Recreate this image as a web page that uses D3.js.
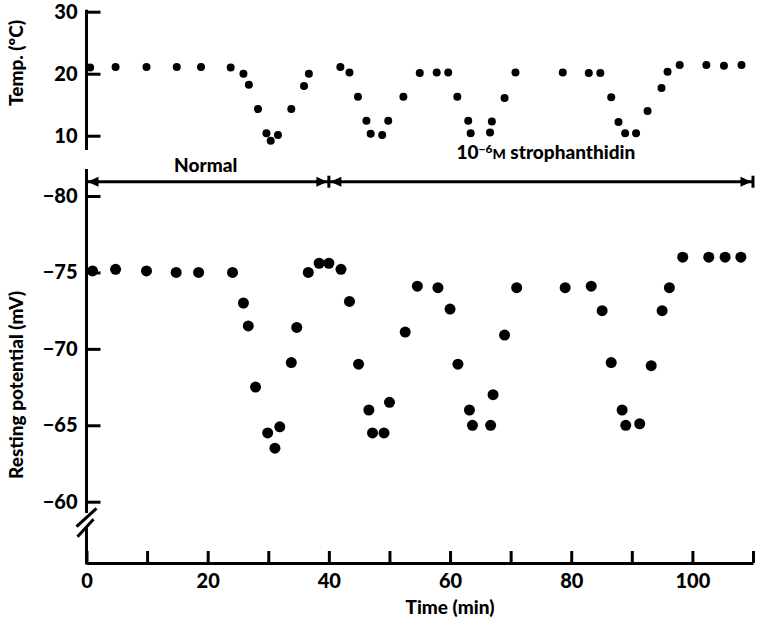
<!doctype html>
<meta charset="utf-8">

<style>
body {
  margin: 0;
  background: #fff;
}
svg {
  display: block;
}
.txt, .axis text {
  font-family: Lato, "Open Sans", sans-serif;
  font-weight: 900;
  font-size: 19px;
  fill: #000;
}
.axis text {
  font-size: 20px;
}
.axis path, .axis line, .rule {
  stroke: #000;
  stroke-width: 3;
  fill: none;
}
</style>

<svg id="chart" width="757" height="623"></svg>

<script src="https://d3js.org/d3.v7.min.js"></script>
<script>
  // temperature of the bath
  var tempTime = [0.6, 4.8, 9.9, 14.9, 18.9, 23.8, 25.9, 26.8, 28.3, 29.7, 30.4, 31.6, 33.8, 35.9, 36.7,
    41.9, 43.4, 44.8, 46.2, 46.9, 48.8, 49.8, 52.3, 55.0, 57.8, 59.7, 61.2, 63.0, 63.4, 66.6, 66.9,
    69.0, 70.8, 78.6, 82.9, 84.8, 86.6, 87.8, 88.9, 90.7, 92.6, 94.9, 95.9, 97.9, 102.3, 105.2, 108.1];
  var tempValue = [21.0, 21.1, 21.1, 21.1, 21.1, 21.0, 20.0, 18.2, 14.3, 10.4, 9.2, 10.1, 14.3, 18.0, 20.0,
    21.1, 20.2, 16.3, 12.4, 10.3, 10.1, 12.4, 16.3, 20.1, 20.2, 20.2, 16.3, 12.4, 10.4, 10.5, 12.3,
    16.1, 20.2, 20.2, 20.1, 20.1, 16.2, 12.2, 10.4, 10.4, 14.0, 17.7, 20.3, 21.4, 21.4, 21.3, 21.4];

  // resting potential
  var potTime = [1.0, 4.8, 9.9, 14.8, 18.5, 24.1, 25.9, 26.7, 27.9, 29.9, 31.1, 31.9, 33.8, 34.7, 36.6,
    38.4, 40.0, 42.0, 43.4, 44.9, 46.6, 47.2, 49.1, 50.0, 52.6, 54.6, 58.0, 60.0, 61.3, 63.2, 63.7,
    66.7, 67.1, 69.0, 71.0, 79.0, 83.3, 85.1, 86.6, 88.4, 89.0, 91.3, 93.2, 95.0, 96.2, 98.4, 102.7,
    105.4, 108.0];
  var potValue = [-75.1, -75.2, -75.1, -75.0, -75.0, -75.0, -73.0, -71.5, -67.5, -64.5, -63.5, -64.9, -69.1, -71.4, -75.0,
    -75.6, -75.6, -75.2, -73.1, -69.0, -66.0, -64.5, -64.5, -66.5, -71.1, -74.1, -74.0, -72.6, -69.0, -66.0, -65.0,
    -65.0, -67.0, -70.9, -74.0, -74.0, -74.1, -72.5, -69.1, -66.0, -65.0, -65.1, -68.9, -72.5, -74.0, -76.0, -76.0,
    -76.0, -76.0];

  var tempTicks = [10, 20, 30];
  var potTicks = [-80, -75, -70, -65, -60];
  var timeTicks = [0, 10, 20, 30, 40, 50, 60, 70, 80, 90, 100, 110];

  // treatment periods
  var phaseStart = [0, 40];
  var phaseEnd = [40, 110];

  var svg = d3.select("#chart");

  var x = d3.scaleLinear().domain([0, 110]).range([86.5, 753]);
  var yT = d3.scaleLinear().domain([10, 30]).range([135.7, 11.7]);
  var yV = d3.scaleLinear().domain([-80, -60]).range([196, 501.7]);
  var axisX = 86.5;

  //
  // top panel: temperature
  //
  var gT = svg.append("g")
    .attr("class", "axis")
    .attr("transform", "translate(" + axisX + ",0)")
    .call(d3.axisLeft(yT).tickValues(tempTicks).tickSize(-14).tickPadding(9));
  gT.select(".domain").remove();
  gT.append("line").attr("y1", yT(30) - 2).attr("y2", 150);

  svg.append("text")
    .attr("class", "txt")
    .attr("transform", "translate(16,63) rotate(-90)")
    .attr("text-anchor", "middle")
    .attr("dy", "0.35em")
    .text("Temp. (ºC)");

  svg.append("g")
    .selectAll("circle")
    .data(tempTime)
    .enter()
    .append("circle")
    .attr("cx", d => x(d))
    .attr("cy", (d, i) => yT(tempValue[i]))
    .attr("r", 4)
    .attr("fill", "#000");

  //
  // phase arrows
  //
  var arrowY = 181.7;
  svg.append("line").attr("class", "rule")
    .attr("x1", x(0)).attr("x2", x(110))
    .attr("y1", arrowY).attr("y2", arrowY);

  var head = (tip, dir) => "M" + tip + "," + arrowY +
    "L" + (tip + dir * 11) + "," + (arrowY - 5) +
    "L" + (tip + dir * 11) + "," + (arrowY + 5) + "Z";

  phaseStart.forEach((s, i) => {
    svg.append("path").attr("d", head(x(s) + (i ? 1.5 : 1), 1)).attr("fill", "#000");
    svg.append("path").attr("d", head(x(phaseEnd[i]) - 1.5, -1)).attr("fill", "#000");
    svg.append("line").attr("class", "rule")
      .attr("x1", x(phaseEnd[i])).attr("x2", x(phaseEnd[i]))
      .attr("y1", arrowY - 6).attr("y2", arrowY + 6);
  });

  svg.append("text")
    .attr("class", "txt")
    .attr("x", x((phaseStart[0] + phaseEnd[0]) / 2) - 2)
    .attr("y", 172)
    .attr("text-anchor", "middle")
    .text("Normal");

  var drug = svg.append("text")
    .attr("class", "txt")
    .attr("x", x((phaseStart[1] + phaseEnd[1]) / 2) + 5)
    .attr("y", 159)
    .attr("text-anchor", "middle");
  drug.append("tspan").text("10");
  drug.append("tspan").attr("dy", -6).attr("font-size", 12).text("−6");
  drug.append("tspan").attr("dy", 6).attr("font-size", 14).text("M");
  drug.append("tspan").text(" strophanthidin");

  //
  // bottom panel: resting potential
  //
  var gV = svg.append("g")
    .attr("class", "axis")
    .attr("transform", "translate(" + axisX + ",0)")
    .call(d3.axisLeft(yV).tickValues(potTicks).tickSize(-14).tickPadding(9));
  gV.select(".domain").remove();
  gV.append("line").attr("y1", 169).attr("y2", 513);
  gV.append("line").attr("y1", 526).attr("y2", 564.5);
  // axis break
  gV.append("line").attr("x1", -10).attr("y1", 526.7).attr("x2", 10).attr("y2", 508.3);
  gV.append("line").attr("x1", -9).attr("y1", 536.7).attr("x2", 7).attr("y2", 519.3);

  svg.append("text")
    .attr("class", "txt")
    .attr("transform", "translate(16,385) rotate(-90)")
    .attr("text-anchor", "middle")
    .attr("dy", "0.35em")
    .text("Resting potential (mV)");

  svg.append("g")
    .selectAll("circle")
    .data(potTime)
    .enter()
    .append("circle")
    .attr("cx", d => x(d))
    .attr("cy", (d, i) => yV(potValue[i]))
    .attr("r", 5.5)
    .attr("fill", "#000");

  //
  // time axis
  //
  svg.append("g")
    .attr("class", "axis")
    .attr("transform", "translate(0,563)")
    .call(d3.axisBottom(x)
      .tickValues(timeTicks)
      .tickSize(-12)
      .tickSizeOuter(0)
      .tickPadding(11)
      .tickFormat(d => d % 20 === 0 ? d : ""));

  svg.append("text")
    .attr("class", "txt")
    .attr("x", 450)
    .attr("y", 614)
    .attr("text-anchor", "middle")
    .text("Time (min)");
</script>
